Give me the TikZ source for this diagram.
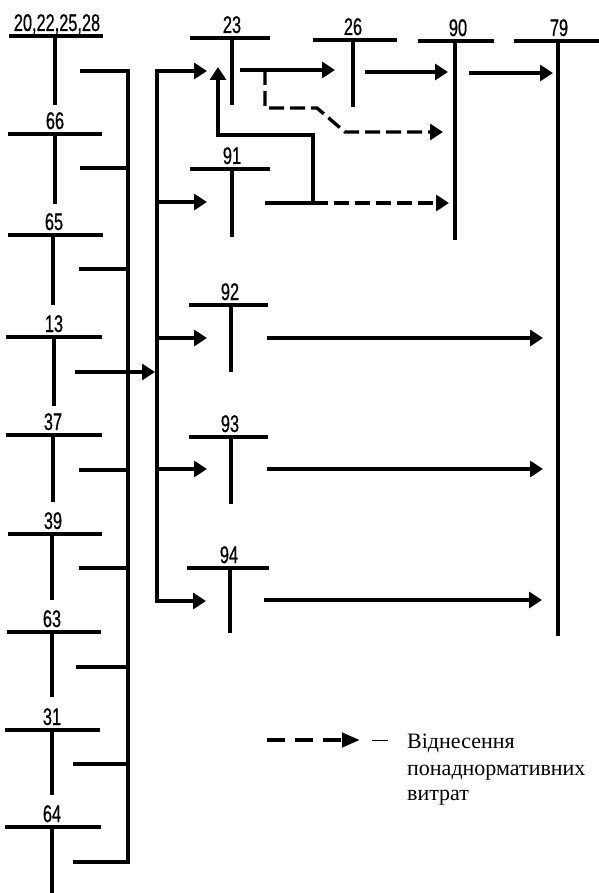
\documentclass[tikz,border=0pt]{standalone}
\usepackage{fontspec}
\setmainfont{Liberation Serif}
\newfontfamily\lblfont[FakeStretch=0.68,FakeBold=0.6]{Liberation Sans}
\usetikzlibrary{arrows.meta}
\newcommand\tacct[8]{%
  \draw[ln] (#5,#4) -- (#6,#4);
  \draw[ln] (#7,#4) -- (#7,#8);
  \node[lbl] (#1) at (#3,#4-5) {#2};}
\begin{document}
\begin{tikzpicture}[x=1pt,y=-1pt,
  ln/.style={line width=3.4pt, line cap=rect, line join=miter},
  arr/.style={ln, -{Triangle[length=13pt,width=16pt]}},
  dsh/.style={line width=3.4pt, line join=miter, dash pattern=on 15pt off 6pt, -{Triangle[length=13pt,width=16pt]}},
  lbl/.style={font=\lblfont\fontsize{24}{26}\selectfont, inner sep=0pt, anchor=base},
  legtext/.style={font=\fontsize{22}{26}\selectfont, inner sep=0pt, anchor=base west}]
\useasboundingbox (0,0) rectangle (598,893);

% left column of accounts
\tacct{t20}{20,22,25,28}{57}{36}{11}{101}{55}{103}
\tacct{t66}{66}{55}{134}{10}{100}{55}{202}
\tacct{t65}{65}{54}{235}{10}{101}{53}{303}
\tacct{t13}{13}{54}{337}{8}{100}{54}{404}
\tacct{t37}{37}{53}{435}{8}{100}{53}{500}
\tacct{t39}{39}{53}{534}{10}{100}{52}{598}
\tacct{t63}{63}{52}{632}{9}{99}{52}{695}
\tacct{t31}{31}{52}{730}{7}{98}{52}{793}
\tacct{t64}{64}{52}{827}{7}{99}{52}{893}

% middle and right accounts
\tacct{t23}{23}{232}{38}{192}{268}{232}{103}
\tacct{t26}{26}{353}{40}{315}{395}{353}{105}
\tacct{t90}{90}{458}{41}{420}{492}{455}{238}
\tacct{t79}{79}{559}{41}{516}{598}{558}{634}
\tacct{t91}{91}{232}{169}{192}{268}{232}{235}
\tacct{t92}{92}{230}{305}{191}{266}{231}{370}
\tacct{t93}{93}{230}{437}{191}{266}{231}{502}
\tacct{t94}{94}{229}{568}{189}{267}{230}{631}

% left collecting bus
\coordinate (s1) at (82,71);   \coordinate (b1) at (128,71);
\coordinate (s2) at (82,168);  \coordinate (b2) at (128,168);
\coordinate (s3) at (81,269);  \coordinate (b3) at (128,269);
\coordinate (s5) at (81,470);  \coordinate (b5) at (128,470);
\coordinate (s6) at (81,568);  \coordinate (b6) at (128,568);
\coordinate (s7) at (78,667);  \coordinate (b7) at (128,667);
\coordinate (s8) at (75,764);  \coordinate (b8) at (128,764);
\coordinate (s9) at (75,862);  \coordinate (b9) at (128,862);
\draw[ln] (s1) -- (b1) -- (b9) -- (s9);
\foreach \i in {2,3,5,6,7,8} \draw[ln] (s\i) -- (b\i);

% arrow from 13 to the second bus
\coordinate (s4) at (77,372);
\coordinate (c4) at (155,372);
\draw[arr] (s4) -- (c4);

% second (distributing) bus
\coordinate (d1) at (157,71);  \coordinate (e1) at (207,71);
\coordinate (d2) at (157,202); \coordinate (e2) at (207,202);
\coordinate (d3) at (157,338); \coordinate (e3) at (207,338);
\coordinate (d4) at (157,469); \coordinate (e4) at (207,469);
\coordinate (d5) at (157,601); \coordinate (e5) at (206,601);
\draw[arr] (d5) -- (d1) -- (e1);
\foreach \i in {2,3,4,5} \draw[arr] (d\i) -- (e\i);

% 23 -> 26 -> 90 -> 79
\coordinate (o23) at (242,70);  \coordinate (i26) at (335,70);
\coordinate (o26) at (367,72);  \coordinate (i90) at (448,72);
\coordinate (o90) at (471,73);  \coordinate (i79) at (553,73);
\draw[arr] (o23) -- (i26);
\draw[arr] (o26) -- (i90);
\draw[arr] (o90) -- (i79);

% dashed from 23 to 90
\coordinate (k1) at (265,70);
\coordinate (k2) at (265,108);
\coordinate (k3) at (317,108);
\coordinate (k4) at (345,132);
\coordinate (k5) at (443,132);
\draw[dsh] (k1) -- (k2) -- (k3) -- (k4) -- (k5);

% from 91
\coordinate (o91) at (267,203);
\coordinate (j1) at (313,203);
\coordinate (j2) at (313,135);
\coordinate (j3) at (218,135);
\coordinate (j4) at (218,67);
\coordinate (j5) at (449,203);
\draw[ln] (o91) -- (j1);
\draw[arr] (j1) -- (j2) -- (j3) -- (j4);
\draw[dsh] (j1) -- (j5);

% 92, 93, 94 -> 79
\coordinate (o92) at (269,338); \coordinate (p92) at (543,338);
\coordinate (o93) at (269,469); \coordinate (p93) at (543,469);
\coordinate (o94) at (266,600); \coordinate (p94) at (542,600);
\draw[arr] (o92) -- (p92);
\draw[arr] (o93) -- (p93);
\draw[arr] (o94) -- (p94);

% legend
\coordinate (lg1) at (267,740);
\coordinate (lg2) at (360,740);
\draw[line width=4pt, dash pattern=on 18pt off 10pt, -{Triangle[length=18pt,width=14pt]}] (lg1) -- (lg2);
\coordinate (ld1) at (372,740);
\coordinate (ld2) at (388,740);
\draw[line width=1pt] (ld1) -- (ld2);
\node[legtext] (leg1) at (407,748) {Віднесення};
\node[legtext] (leg2) at (407,775) {понаднормативних};
\node[legtext] (leg3) at (407,800) {витрат};
\end{tikzpicture}
\end{document}
